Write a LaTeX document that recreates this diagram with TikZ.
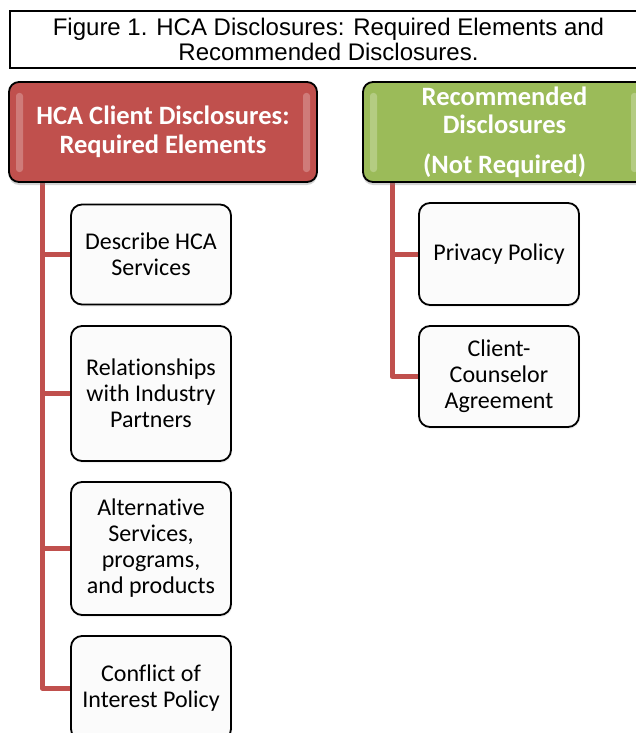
\documentclass[tikz,border=0pt]{standalone}
\usepackage{fontspec}
\setmainfont{Carlito}[Ligatures=NoCommon]
\newfontfamily\titlefont{Liberation Sans}
\usetikzlibrary{shadows}
\definecolor{hcared}{HTML}{C0504D}
\definecolor{hcagreen}{HTML}{9BBB59}
\begin{document}
\begin{tikzpicture}[x=1pt,y=-1pt,
  titlebox/.style={draw=black, line width=1.8pt, align=center,
    font=\titlefont\fontsize{24}{25}\selectfont},
  headbox/.style={draw=black, line width=1.8pt, rounded corners=10pt,
    minimum height=100pt, text=white, align=center,
    font=\fontsize{26.5}{28.5}\selectfont\bfseries,
    drop shadow={opacity=0.35, shadow xshift=0pt, shadow yshift=-3pt}},
  itembox/.style={draw=black, line width=1.8pt, rounded corners=11pt,
    fill=white!98.5!black, minimum width=160pt, align=center,
    font=\fontsize{24}{26}\selectfont,
    drop shadow={opacity=0.12, shadow xshift=1pt, shadow yshift=-2pt}},
  branch/.style={draw=hcared, line width=5pt, line join=round},
  gloss/.style={fill=white, fill opacity=0.25, rounded corners=3pt}
]
\useasboundingbox (0,0) rectangle (636,733);
\clip (0,0) rectangle (636,733);

% caption
\node[titlebox, minimum width=637pt, minimum height=57pt] (title) at (328.5,39.5)
  {Figure 1. HCA Disclosures: Required Elements and\\Recommended Disclosures.};

% spines of the two trees
\coordinate (lspine) at (42,182);
\coordinate (rspine) at (392,182);

% child boxes, required elements
\node[itembox, minimum height=100pt] (describe) at (151,254.5) {Describe HCA\\Services};
\node[itembox, minimum height=135pt] (partners) at (151,393.5) {Relationships\\with Industry\\Partners};
\node[itembox, minimum height=133pt] (alternative) at (151,548.5) {Alternative\\Services,\\programs,\\and products};
\node[itembox, minimum height=104pt] (conflict) at (151,688) {Conflict of\\Interest Policy};

% child boxes, recommended disclosures
\node[itembox, minimum height=102pt] (privacy) at (499,254) {Privacy Policy};
\node[itembox, minimum height=101pt] (agreement) at (499,376.5) {Client-\\Counselor\\Agreement};

% connectors
\draw[branch] (lspine) |- (conflict.west);
\draw[branch] (describe.west) -- (describe.west -| lspine);
\draw[branch] (partners.west) -- (partners.west -| lspine);
\draw[branch] (alternative.west) -- (alternative.west -| lspine);
\draw[branch] (rspine) |- (agreement.west);
\draw[branch] (privacy.west) -- (privacy.west -| rspine);

% header boxes
\node[headbox, fill=hcared, minimum width=308pt] (required) at (163,132)
  {HCA Client Disclosures:\\Required Elements};
\node[headbox, fill=hcagreen, minimum width=283pt] (recommended) at (504.5,132)
  {Recommended\\Disclosures\\[11pt](Not Required)};

% glossy bevel strips along the header sides
\fill[gloss] (16,93) rectangle (23,172);
\fill[gloss] (303,93) rectangle (310,172);
\fill[gloss] (370,93) rectangle (377,172);
\fill[gloss] (631,93) rectangle (638,172);
\end{tikzpicture}
\end{document}
